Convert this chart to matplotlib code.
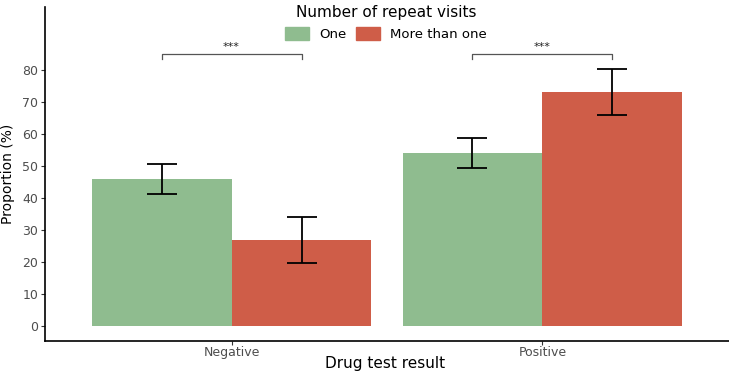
import numpy as np
import matplotlib
matplotlib.use("Agg")
import matplotlib.pyplot as plt
from matplotlib.patches import Patch

# Data
results = ["Negative", "Positive"]
groups = ["One", "More than one"]
prop_one = [46.0, 54.0]
prop_more = [27.0, 73.0]
low_one = [41.4, 49.5]
high_one = [50.6, 58.6]
low_more = [19.8, 65.8]
high_more = [34.2, 80.2]
signif = ["***", "***"]

green = "#8FBC8F"
red = "#CF5D48"

plt.rcParams["font.family"] = ["DejaVu Sans"]

fig = plt.figure(figsize=(7.29, 3.71), dpi=100)
ax = fig.add_axes([45 / 729, (371 - 341) / 371, (729 - 45) / 729, (341 - 7) / 371])

x = np.arange(1, len(results) + 1)
w = 0.45

ax.bar(x - w / 2, prop_one, width=w, color=green, label=groups[0])
ax.bar(x + w / 2, prop_more, width=w, color=red, label=groups[1])

# error bars
for xs, vals, lo, hi in [(x - w / 2, prop_one, low_one, high_one),
                         (x + w / 2, prop_more, low_more, high_more)]:
    yerr = [np.array(vals) - np.array(lo), np.array(hi) - np.array(vals)]
    ax.errorbar(xs, vals, yerr=yerr, fmt="none", ecolor="black",
                elinewidth=1.3, capsize=11, capthick=1.3)

# significance brackets
for xi, s in zip(x, signif):
    x0, x1 = xi - w / 2, xi + w / 2
    ax.plot([x0, x0, x1, x1], [83.3, 85.1, 85.1, 83.3], color="#555555", lw=0.9)
    ax.text(xi, 87.3, s, ha="center", va="center", fontsize=8, color="#222222")

ax.set_xlim(0.4, 2.6)
ax.set_ylim(-4.7, 99.7)
ax.set_yticks(range(0, 81, 10))
ax.set_xticks(x)
ax.set_xticklabels(results)

for sp in ["top", "right"]:
    ax.spines[sp].set_visible(False)
for sp in ["left", "bottom"]:
    ax.spines[sp].set_linewidth(1.2)
    ax.spines[sp].set_color("black")

ax.tick_params(axis="both", length=3, width=0.8, color="#333333",
               labelcolor="#4D4D4D", labelsize=9, pad=2)
ax.tick_params(axis="x", pad=0.5)

ax.set_xlabel("Drug test result", fontsize=11)
ax.xaxis.set_label_coords((385 - 45) / 684, (341 - 356) / 334)
ax.set_ylabel("Proportion (%)", fontsize=10, labelpad=5)

handles = [Patch(color=green), Patch(color=red)]
leg = ax.legend(handles, groups, title="Number of repeat visits", ncol=2,
                loc="upper center", bbox_to_anchor=((386 - 45) / 684, 1.021),
                frameon=False, fontsize=9.5, title_fontsize=11,
                handlelength=1.82, handleheight=1.2, columnspacing=0.75,
                handletextpad=0.75, borderaxespad=0)

fig.savefig("out.png", dpi=100)
